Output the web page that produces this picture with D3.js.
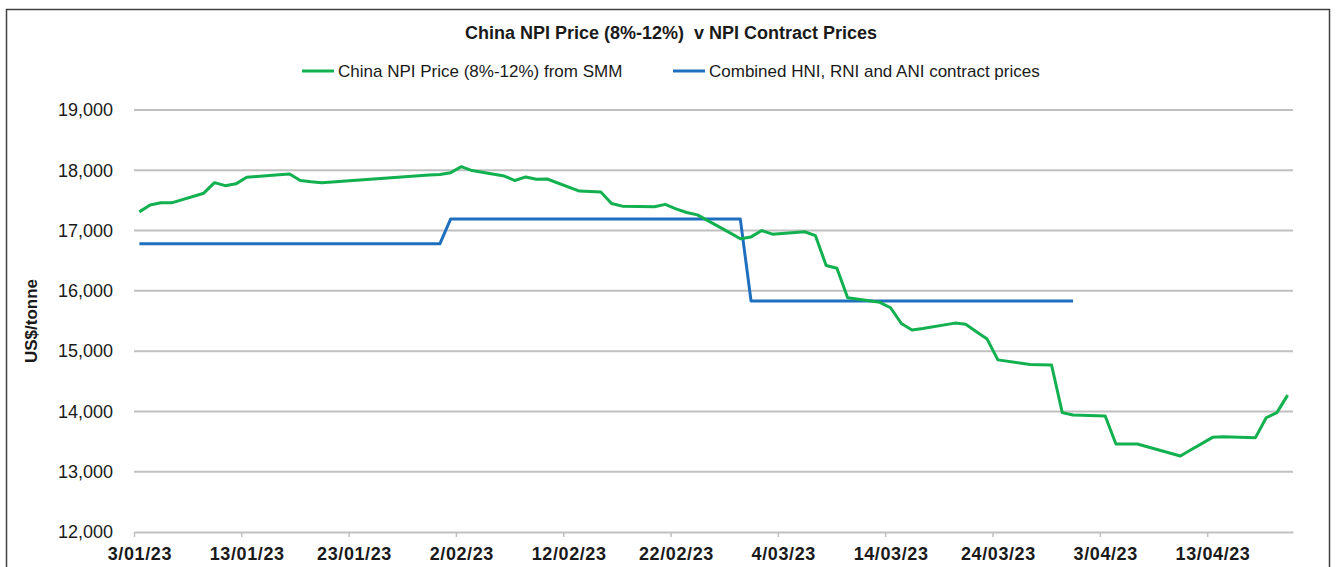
<!DOCTYPE html>
<html>
<head>
<meta charset="utf-8">
<script src="https://cdn.jsdelivr.net/npm/d3@7"></script>
<style>
  body { margin: 0; background: #fff; }
  text { font-family: "Liberation Sans", Arial, sans-serif; fill: #1a1a1a; }
</style>
</head>
<body>
<div id="chart"></div>
<script>
// SMM daily NPI price (working days only)
const npiDates = [
  '2023-01-03', '2023-01-04', '2023-01-05', '2023-01-06', '2023-01-09', '2023-01-10',
  '2023-01-11', '2023-01-12', '2023-01-13', '2023-01-16', '2023-01-17', '2023-01-18',
  '2023-01-19', '2023-01-20', '2023-01-30', '2023-01-31', '2023-02-01', '2023-02-02',
  '2023-02-03', '2023-02-06', '2023-02-07', '2023-02-08', '2023-02-09', '2023-02-10',
  '2023-02-13', '2023-02-14', '2023-02-15', '2023-02-16', '2023-02-17', '2023-02-20',
  '2023-02-21', '2023-02-22', '2023-02-23', '2023-02-24', '2023-02-27', '2023-02-28',
  '2023-03-01', '2023-03-02', '2023-03-03', '2023-03-06', '2023-03-07', '2023-03-08',
  '2023-03-09', '2023-03-10', '2023-03-13', '2023-03-14', '2023-03-15', '2023-03-16',
  '2023-03-17', '2023-03-20', '2023-03-21', '2023-03-22', '2023-03-23', '2023-03-24',
  '2023-03-27', '2023-03-28', '2023-03-29', '2023-03-30', '2023-03-31', '2023-04-03',
  '2023-04-04', '2023-04-06', '2023-04-07', '2023-04-10', '2023-04-11', '2023-04-12',
  '2023-04-13', '2023-04-14', '2023-04-17', '2023-04-18', '2023-04-19', '2023-04-20',
];
const npiValues = [
  17310, 17425, 17460, 17460, 17620, 17795,
  17745, 17775, 17885, 17925, 17940, 17830,
  17810, 17795, 17920, 17930, 17960, 18060,
  17995, 17905, 17830, 17890, 17850, 17855,
  17655, 17650, 17640, 17450, 17405, 17395,
  17435, 17360, 17300, 17260, 16965, 16865,
  16895, 17000, 16940, 16980, 16915, 16420,
  16375, 15885, 15810, 15720, 15460, 15350,
  15375, 15465, 15445, 15320, 15200, 14855,
  14780, 14775, 14770, 13980, 13940, 13925,
  13460, 13460, 13410, 13260, 13365, 13465,
  13570, 13580, 13565, 13895, 13980, 14270,
];

// contract prices (step changes)
const contractDates = ['2023-01-03', '2023-01-31', '2023-02-01', '2023-02-28', '2023-03-01', '2023-03-31'];
const contractValues = [16780, 16780, 17190, 17190, 15830, 15830];

const yTicks = [12000, 13000, 14000, 15000, 16000, 17000, 18000, 19000];

const chartTitle = 'China NPI Price (8%-12%)  v NPI Contract Prices';
const seriesNames = ['China NPI Price (8%-12%) from SMM', 'Combined HNI, RNI and ANI contract prices'];
const yTitle = 'US$/tonne';

const width = 1337;
const height = 567;
const margin = { top: 110, right: 44, bottom: 35, left: 134 };
const green = '#12b04f';
const blue = '#1f6fbf';
const gridColor = '#c0c0c0';

const parse = d3.utcParse('%Y-%m-%d');
const halfDay = 12 * 3600 * 1000;
const start = parse('2023-01-03');
const end = parse('2023-04-21');

const x = d3.scaleUtc().domain([start, end]).range([margin.left, width - margin.right]);
const y = d3.scaleLinear().domain([12000, 19000]).range([height - margin.bottom, margin.top]);

const svg = d3
  .select('#chart')
  .append('svg')
  .attr('width', width)
  .attr('height', height)
  .attr('viewBox', [0, 0, width, height]);

// outer frame
svg
  .append('rect')
  .attr('x', 6.5)
  .attr('y', 9.5)
  .attr('width', 1323)
  .attr('height', 600)
  .attr('fill', 'none')
  .attr('stroke', '#404040')
  .attr('stroke-width', 1.5);

// horizontal gridlines
svg
  .append('g')
  .selectAll('line')
  .data(yTicks.slice(1))
  .join('line')
  .attr('x1', x.range()[0])
  .attr('x2', x.range()[1])
  .attr('y1', (d) => y(d))
  .attr('y2', (d) => y(d))
  .attr('stroke', gridColor)
  .attr('stroke-width', 2);

// y axis labels
const gy = svg
  .append('g')
  .attr('transform', `translate(${margin.left},0)`)
  .call(d3.axisLeft(y).tickValues(yTicks).tickFormat(d3.format(',')).tickSize(0).tickPadding(21));
gy.select('.domain').remove();
gy.selectAll('text')
  .attr('font-size', 18)
  .attr('font-family', '"Liberation Sans", Arial, sans-serif')
  .attr('fill', '#1a1a1a');

// x axis, labels centred on the day slot
const xTicks = d3.utcDay.range(start, end, 10);
const gx = svg
  .append('g')
  .attr('transform', `translate(0,${y(12000)})`)
  .call(
    d3
      .axisBottom(x)
      .tickValues(xTicks)
      .tickFormat(d3.utcFormat('%-d/%m/%y'))
      .tickSize(5)
      .tickSizeOuter(0)
      .tickPadding(10),
  );
gx.select('.domain').attr('stroke', gridColor).attr('stroke-width', 2);
gx.selectAll('.tick line').attr('stroke', gridColor).attr('stroke-width', 1.5);
gx.selectAll('text')
  .attr('x', x(new Date(+start + halfDay)) - x(start))
  .attr('font-size', 18)
  .attr('font-weight', 'bold')
  .attr('letter-spacing', 0.6)
  .attr('font-family', '"Liberation Sans", Arial, sans-serif')
  .attr('fill', '#1a1a1a');

const line = d3
  .line()
  .x((d) => x(new Date(+d.date + halfDay)))
  .y((d) => y(d.value));

const npi = npiDates.map((d, i) => ({ date: parse(d), value: npiValues[i] }));
const contract = contractDates.map((d, i) => ({ date: parse(d), value: contractValues[i] }));

svg
  .append('path')
  .datum(contract)
  .attr('d', line)
  .attr('fill', 'none')
  .attr('stroke', blue)
  .attr('stroke-width', 3)
  .attr('stroke-linejoin', 'round');

svg
  .append('path')
  .datum(npi)
  .attr('d', line)
  .attr('fill', 'none')
  .attr('stroke', green)
  .attr('stroke-width', 3)
  .attr('stroke-linejoin', 'round');

// title
svg
  .append('text')
  .attr('x', 671)
  .attr('y', 39)
  .attr('text-anchor', 'middle')
  .attr('font-size', 18)
  .attr('font-weight', 'bold')
  .attr('xml:space', 'preserve')
  .text(chartTitle);

// legend
const legendItems = [
  { name: seriesNames[0], color: green, x: 302 },
  { name: seriesNames[1], color: blue, x: 673 },
];
const legend = svg
  .append('g')
  .selectAll('g')
  .data(legendItems)
  .join('g')
  .attr('transform', (d) => `translate(${d.x},71)`);
legend
  .append('line')
  .attr('x1', 0)
  .attr('x2', 32)
  .attr('stroke', (d) => d.color)
  .attr('stroke-width', 3);
legend
  .append('text')
  .attr('x', 36)
  .attr('y', 6)
  .attr('font-size', 17)
  .text((d) => d.name);

// y axis title
svg
  .append('text')
  .attr('transform', `translate(37,${y(15500)}) rotate(-90)`)
  .attr('text-anchor', 'middle')
  .attr('font-size', 17)
  .attr('font-weight', 'bold')
  .text(yTitle);
</script>
</body>
</html>
